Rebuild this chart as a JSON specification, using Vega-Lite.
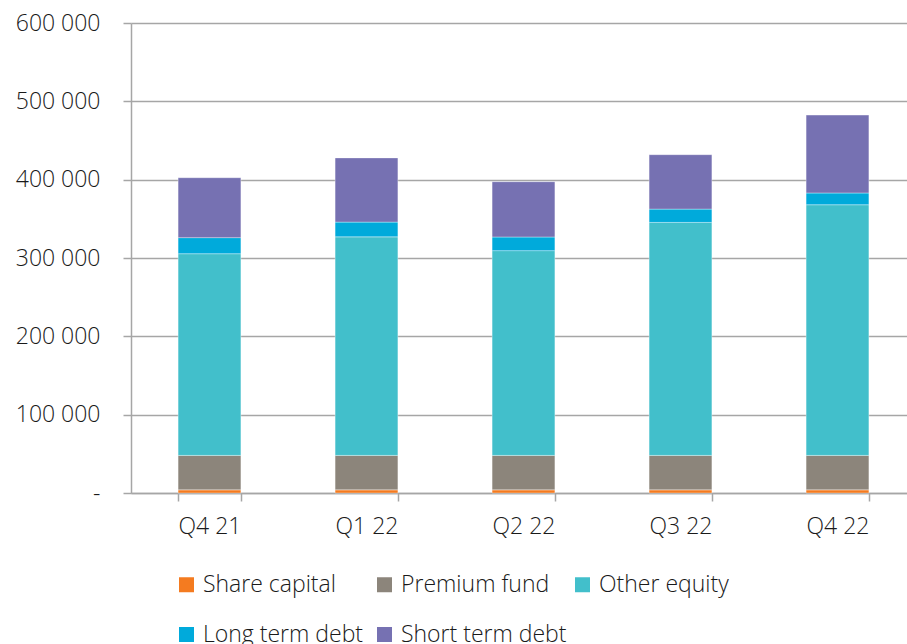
{
  "$schema": "https://vega.github.io/schema/vega-lite/v6.json",
  "width": 785,
  "height": 470,
  "autosize": {"type": "none"},
  "padding": {"left": 131, "top": 23, "right": 0, "bottom": 151},
  "background": "white",
  "config": {
    "font": "Open Sans",
    "view": {"stroke": null},
    "axis": {"labelFont": "Open Sans", "labelColor": "#1a1a1a", "labelFontSize": 23, "labelFontWeight": 300}
  },
  "data": {
    "values": [
      {"quarter": "Q4 21", "series": "Share capital", "idx": 1, "value": 4000},
      {"quarter": "Q4 21", "series": "Premium fund", "idx": 2, "value": 44000},
      {"quarter": "Q4 21", "series": "Other equity", "idx": 3, "value": 257500},
      {"quarter": "Q4 21", "series": "Long term debt", "idx": 4, "value": 20500},
      {"quarter": "Q4 21", "series": "Short term debt", "idx": 5, "value": 76500},
      {"quarter": "Q1 22", "series": "Share capital", "idx": 1, "value": 4000},
      {"quarter": "Q1 22", "series": "Premium fund", "idx": 2, "value": 44000},
      {"quarter": "Q1 22", "series": "Other equity", "idx": 3, "value": 279000},
      {"quarter": "Q1 22", "series": "Long term debt", "idx": 4, "value": 18800},
      {"quarter": "Q1 22", "series": "Short term debt", "idx": 5, "value": 82000},
      {"quarter": "Q2 22", "series": "Share capital", "idx": 1, "value": 4000},
      {"quarter": "Q2 22", "series": "Premium fund", "idx": 2, "value": 44000},
      {"quarter": "Q2 22", "series": "Other equity", "idx": 3, "value": 261400},
      {"quarter": "Q2 22", "series": "Long term debt", "idx": 4, "value": 17400},
      {"quarter": "Q2 22", "series": "Short term debt", "idx": 5, "value": 70600},
      {"quarter": "Q3 22", "series": "Share capital", "idx": 1, "value": 4000},
      {"quarter": "Q3 22", "series": "Premium fund", "idx": 2, "value": 44000},
      {"quarter": "Q3 22", "series": "Other equity", "idx": 3, "value": 297400},
      {"quarter": "Q3 22", "series": "Long term debt", "idx": 4, "value": 17000},
      {"quarter": "Q3 22", "series": "Short term debt", "idx": 5, "value": 69500},
      {"quarter": "Q4 22", "series": "Share capital", "idx": 1, "value": 4000},
      {"quarter": "Q4 22", "series": "Premium fund", "idx": 2, "value": 44000},
      {"quarter": "Q4 22", "series": "Other equity", "idx": 3, "value": 320000},
      {"quarter": "Q4 22", "series": "Long term debt", "idx": 4, "value": 15000},
      {"quarter": "Q4 22", "series": "Short term debt", "idx": 5, "value": 99400}
    ]
  },
  "mark": {"type": "bar", "stroke": "white", "strokeWidth": 0.6, "strokeOpacity": 0.6},
  "encoding": {
    "x": {
      "field": "quarter",
      "type": "nominal",
      "sort": ["Q4 21", "Q1 22", "Q2 22", "Q3 22", "Q4 22"],
      "scale": {"paddingInner": 0.6, "paddingOuter": 0.3},
      "axis": {
        "title": null,
        "labelAngle": 0,
        "domainColor": "#a6a6a6",
        "domainWidth": 1.5,
        "tickColor": "#a6a6a6",
        "tickWidth": 1.5,
        "tickSize": 8,
        "tickBand": "extent",
        "labelPadding": 14
      }
    },
    "y": {
      "field": "value",
      "type": "quantitative",
      "stack": "zero",
      "scale": {"domain": [0, 600000], "nice": false},
      "axis": {
        "title": null,
        "values": [0, 100000, 200000, 300000, 400000, 500000, 600000],
        "labelExpr": "datum.value == 0 ? '-' : replace(format(datum.value, ',d'), ',', ' ')",
        "domainColor": "#a6a6a6",
        "domainWidth": 1.5,
        "tickColor": "#a6a6a6",
        "tickWidth": 1.5,
        "tickSize": 8,
        "labelPadding": 23,
        "gridColor": "#a6a6a6",
        "gridWidth": 1.5
      }
    },
    "color": {
      "field": "series",
      "type": "nominal",
      "sort": ["Share capital", "Premium fund", "Other equity", "Long term debt", "Short term debt"],
      "scale": {
        "domain": ["Share capital", "Premium fund", "Other equity", "Long term debt", "Short term debt"],
        "range": ["#F47B20", "#8C857B", "#42BFCB", "#00AADB", "#7671B2"]
      },
      "legend": {
        "title": null,
        "orient": "none",
        "legendX": 44,
        "legendY": 550,
        "direction": "horizontal",
        "columns": 3,
        "gridAlign": "all",
        "symbolType": "square",
        "symbolSize": 225,
        "symbolStrokeWidth": 0,
        "labelFontSize": 23,
        "labelFontWeight": 300,
        "labelColor": "#1a1a1a",
        "labelFont": "Open Sans",
        "labelLimit": 400,
        "columnPadding": 4,
        "rowPadding": 26,
        "labelOffset": 5
      }
    },
    "order": {"field": "idx", "type": "quantitative"}
  }
}
